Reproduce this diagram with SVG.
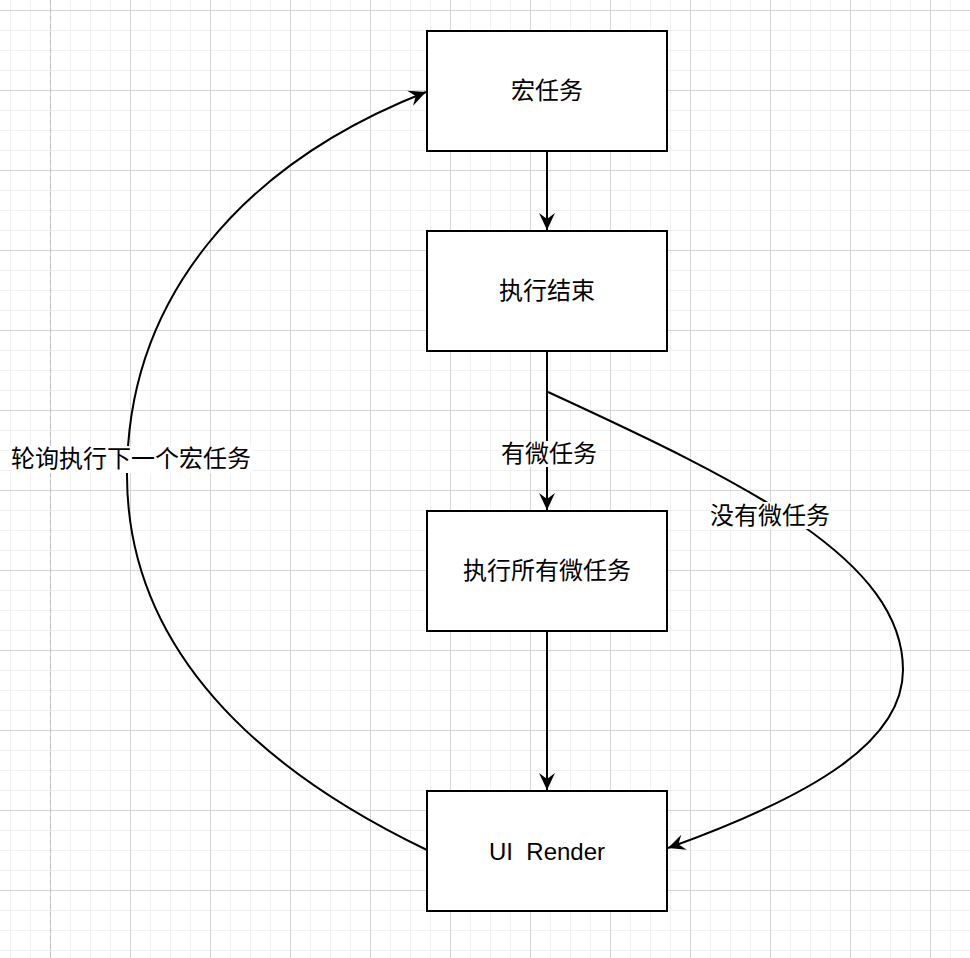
<svg xmlns="http://www.w3.org/2000/svg" width="970" height="958" viewBox="0 0 970 958">
  <style>
    .box { fill: #ffffff; stroke: #000000; stroke-width: 2; }
    .lbl { font-family: "Liberation Sans", "Noto Sans CJK SC", sans-serif; font-size: 24px; fill: #000000; text-anchor: middle; }
    .edge { fill: none; stroke: #000000; stroke-width: 2; marker-end: url(#arrow); }
    .lblbg { fill: #ffffff; }
  </style>
  <defs>
    <pattern id="grid" patternUnits="userSpaceOnUse" x="10" y="10" width="80" height="80">
      <rect x="0" y="0" width="80" height="80" fill="#ffffff"/>
      <g fill="#f0f0f0">
        <rect x="0" y="0" width="1" height="80"/>
        <rect x="20" y="0" width="1" height="80"/>
        <rect x="60" y="0" width="1" height="80"/>
        <rect x="0" y="20" width="80" height="1"/>
        <rect x="0" y="40" width="80" height="1"/>
        <rect x="0" y="60" width="80" height="1"/>
      </g>
      <g fill="#d4d4d4">
        <rect x="40" y="0" width="1" height="80"/>
        <rect x="0" y="0" width="80" height="1"/>
      </g>
    </pattern>
    <marker id="arrow" viewBox="-18 -9 20 18" refX="0" refY="0" markerWidth="20" markerHeight="18" markerUnits="userSpaceOnUse" orient="auto">
      <path d="M0,0 L-17,-8 L-11,0 L-17,8 Z" fill="#000000"/>
    </marker>
  </defs>

  <rect id="background" x="0" y="0" width="970" height="958" fill="url(#grid)"/>
  <line x1="50.5" y1="0" x2="50.5" y2="958" stroke="#bdbdbd" stroke-width="1" stroke-dasharray="5,3"/>

  <g id="connectors">
    <path class="edge" d="M547,151 L547,230"/>
    <path class="edge" d="M547,351 L547,510"/>
    <path class="edge" d="M547,631 L547,790"/>
    <path class="edge" d="M548,392 C748,484 903,560 903,670 C903,740 818,794 668,848"/>
    <path class="edge" d="M427,850 C260,770 127,650 127,475 C127,300 240,165 426,92"/>
    <g id="label-has-micro">
      <rect class="lblbg" x="500" y="441" width="98" height="26"/>
      <text class="lbl" x="549" y="462">有微任务</text>
    </g>
    <g id="label-no-micro">
      <rect class="lblbg" x="710" y="502" width="121" height="27"/>
      <text class="lbl" x="770" y="524">没有微任务</text>
    </g>
    <g id="label-poll">
      <rect class="lblbg" x="10" y="446" width="242" height="27"/>
      <text class="lbl" x="131" y="467">轮询执行下一个宏任务</text>
    </g>
  </g>

  <g id="node-macrotask">
    <rect class="box" x="427" y="31" width="240" height="120"/>
    <text class="lbl" x="547" y="99">宏任务</text>
  </g>
  <g id="node-exec-end">
    <rect class="box" x="427" y="231" width="240" height="120"/>
    <text class="lbl" x="547" y="299">执行结束</text>
  </g>
  <g id="node-exec-micro">
    <rect class="box" x="427" y="511" width="240" height="120"/>
    <text class="lbl" x="547" y="579">执行所有微任务</text>
  </g>
  <g id="node-ui-render">
    <rect class="box" x="427" y="791" width="240" height="120"/>
    <text class="lbl" x="547" y="860" xml:space="preserve">UI  Render</text>
  </g>
</svg>
